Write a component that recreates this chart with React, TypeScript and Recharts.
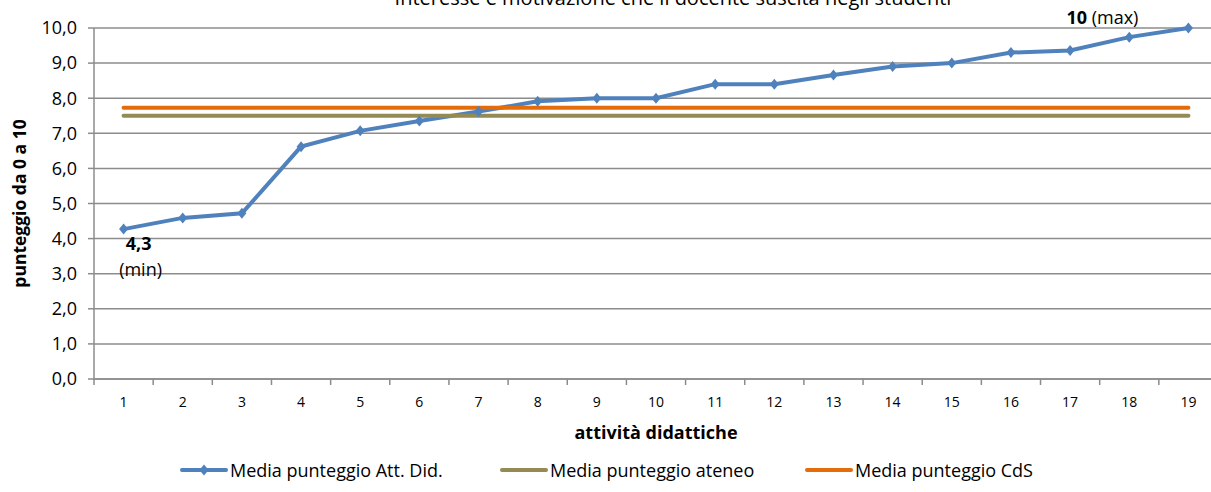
import { CartesianGrid, LabelList, Legend, Line, LineChart, XAxis, YAxis } from "recharts";

const categories = ["1", "2", "3", "4", "5", "6", "7", "8", "9", "10", "11", "12", "13", "14", "15", "16", "17", "18", "19"];
const mediaAttDid = [4.27, 4.59, 4.72, 6.62, 7.07, 7.35, 7.62, 7.91, 8.0, 8.0, 8.4, 8.4, 8.66, 8.9, 9.0, 9.3, 9.36, 9.74, 10.0];
const mediaAteneo = [7.5, 7.5, 7.5, 7.5, 7.5, 7.5, 7.5, 7.5, 7.5, 7.5, 7.5, 7.5, 7.5, 7.5, 7.5, 7.5, 7.5, 7.5, 7.5];
const mediaCdS = [7.73, 7.73, 7.73, 7.73, 7.73, 7.73, 7.73, 7.73, 7.73, 7.73, 7.73, 7.73, 7.73, 7.73, 7.73, 7.73, 7.73, 7.73, 7.73];
const yTicks = [0, 1, 2, 3, 4, 5, 6, 7, 8, 9, 10];
const seriesOrder = ["att", "ateneo", "cds"];

const data = categories.map((cat, i) => ({
  cat,
  att: mediaAttDid[i],
  ateneo: mediaAteneo[i],
  cds: mediaCdS[i],
}));

const W = 1230;
const H = 492;
const M = { top: 28, right: 12, bottom: 7, left: 0 };
const Y_W = 94;
const plotW = W - M.left - M.right - Y_W;
const half = plotW / categories.length / 2;

const BLUE = "#4F81BD";
const OLIVE = "#948A54";
const ORANGE = "#E46C0A";
const GRID = "#8c8c8c";
const FONT = "'Open Sans', sans-serif";

const fmt = (v: number) => v.toFixed(1).replace(".", ",");

function Diamond({ cx, cy }: any) {
  if (cx == null || cy == null) return null;
  return <path d={`M${cx},${cy - 5.5}L${cx + 4.5},${cy}L${cx},${cy + 5.5}L${cx - 4.5},${cy}Z`} fill={BLUE} />;
}

function XTick({ x, y, payload, index }: any) {
  return (
    <g>
      {index === 0 && <line x1={x - half} x2={x - half} y1={y} y2={y + 6} stroke={GRID} strokeWidth={1.5} />}
      <line x1={x + half} x2={x + half} y1={y} y2={y + 6} stroke={GRID} strokeWidth={1.5} />
      <text x={x} y={y + 28} textAnchor="middle" fontSize={14} fill="#000">
        {payload.value}
      </text>
    </g>
  );
}

function Extremes({ x, y, value }: any) {
  const v = Number(value);
  if (v === Math.min(...mediaAttDid)) {
    return (
      <g fontSize={18} fill="#000">
        <text x={x + 15} y={y + 21} textAnchor="middle" fontWeight="bold">{fmt(v)}</text>
        <text x={x + 17} y={y + 47} textAnchor="middle">(min)</text>
      </g>
    );
  }
  if (v === Math.max(...mediaAttDid)) {
    const s = fmt(v).replace(",0", "");
    return (
      <text x={x - 50} y={y - 4} textAnchor="end" fontSize={18} fill="#000">
        <tspan fontWeight="bold">{s}</tspan> (max)
      </text>
    );
  }
  return null;
}

function LegendContent({ payload }: any) {
  const widths = [320, 305, 300];
  const items = [...(payload || [])].sort(
    (a: any, b: any) => seriesOrder.indexOf(a.dataKey) - seriesOrder.indexOf(b.dataKey)
  );
  return (
    <div style={{ height: 30, display: "flex", alignItems: "center", paddingLeft: 180, fontFamily: FONT }}>
      {items.map((p: any, i: number) => (
        <div key={p.value} style={{ width: widths[i], display: "flex", alignItems: "center", flexShrink: 0 }}>
          <svg width={48} height={14} style={{ marginRight: 2 }}>
            <line x1={2} x2={46} y1={7} y2={7} stroke={p.color} strokeWidth={4} strokeLinecap="round" />
            {p.dataKey === "att" && <path d="M24,1.5L28.5,7L24,12.5L19.5,7Z" fill={p.color} />}
          </svg>
          <span style={{ fontSize: 18, color: "#000", whiteSpace: "nowrap" }}>{p.value}</span>
        </div>
      ))}
    </div>
  );
}

export default function App() {
  return (
    <div style={{ position: "absolute", left: 0, top: 0, width: 1211, height: H, overflow: "hidden", background: "#fff", fontFamily: FONT }}>
      <div style={{ position: "absolute", left: 0, top: 0, width: W, height: H }}>
        <LineChart width={W} height={H} data={data} margin={M} style={{ fontFamily: FONT }}>
          <text x={673} y={5} textAnchor="middle" fontSize={20} fill="#000">
            Interesse e motivazione che il docente suscita negli studenti
          </text>
          <CartesianGrid vertical={false} stroke={GRID} strokeWidth={1.5} />
          <XAxis
            dataKey="cat"
            height={76}
            padding={{ left: half, right: half }}
            axisLine={{ stroke: GRID, strokeWidth: 1.5 }}
            tickLine={false}
            tickSize={0}
            tickMargin={0}
            interval={0}
            tick={<XTick />}
            label={({ viewBox }: any) => (
              <text x={viewBox.x + viewBox.width / 2} y={viewBox.y + 60} textAnchor="middle" fontSize={18} fontWeight="bold" fill="#000">
                attività didattiche
              </text>
            )}
          />
          <YAxis
            width={Y_W}
            domain={[0, 10]}
            ticks={yTicks}
            interval={0}
            tickFormatter={fmt}
            axisLine={{ stroke: GRID, strokeWidth: 1.5 }}
            tickLine={{ stroke: GRID, strokeWidth: 1.5 }}
            tickSize={6}
            tickMargin={11}
            tick={{ fontSize: 18, fill: "#000" }}
            label={({ viewBox }: any) => {
              const cx = viewBox.x + 19;
              const cy = viewBox.y + viewBox.height / 2;
              return (
                <text x={cx} y={cy} transform={`rotate(-90 ${cx} ${cy})`} textAnchor="middle" dominantBaseline="central" fontSize={17.5} fontWeight="bold" fill="#000">
                  punteggio da 0 a 10
                </text>
              );
            }}
          />
          <Legend verticalAlign="bottom" height={30} content={<LegendContent />} />
          <Line
            dataKey="att"
            name="Media punteggio Att. Did."
            stroke={BLUE}
            strokeWidth={4}
            dot={<Diamond />}
            activeDot={false}
            isAnimationActive={false}
          >
            <LabelList dataKey="att" content={<Extremes />} />
          </Line>
          <Line
            dataKey="ateneo"
            name="Media punteggio ateneo"
            stroke={OLIVE}
            strokeWidth={4}
            strokeLinecap="round"
            dot={false}
            activeDot={false}
            isAnimationActive={false}
          />
          <Line
            dataKey="cds"
            name="Media punteggio CdS"
            stroke={ORANGE}
            strokeWidth={4}
            strokeLinecap="round"
            dot={false}
            activeDot={false}
            isAnimationActive={false}
          />
        </LineChart>
      </div>
    </div>
  );
}
